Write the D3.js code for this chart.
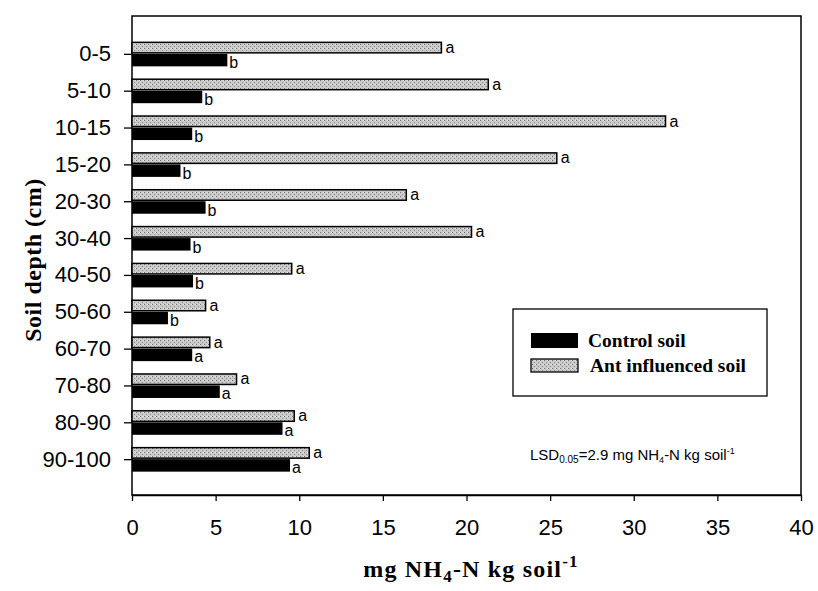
<!DOCTYPE html>
<html>
<head>
<meta charset="utf-8">
<script src="https://cdn.jsdelivr.net/npm/d3@7"></script>
<style>
    html, body { margin: 0; padding: 0; background: #fff; }
    svg { display: block; }
</style>
</head>
<body>
<div id="chart"></div>
<script>
var depths = ["0-5", "5-10", "10-15", "15-20", "20-30", "30-40", "40-50", "50-60", "60-70", "70-80", "80-90", "90-100"];
var controlSoil = [5.7, 4.2, 3.6, 2.9, 4.4, 3.5, 3.65, 2.15, 3.6, 5.25, 9.0, 9.45];
var antSoil = [18.5, 21.3, 31.9, 25.4, 16.4, 20.3, 9.55, 4.4, 4.65, 6.25, 9.7, 10.6];
var controlLetters = ["b", "b", "b", "b", "b", "b", "b", "b", "a", "a", "a", "a"];
var antLetters = ["a", "a", "a", "a", "a", "a", "a", "a", "a", "a", "a", "a"];
var xTicks = [0, 5, 10, 15, 20, 25, 30, 35, 40];

(function () {
    var width = 818;
    var height = 591;
    var left = 132, right = 801, top = 16, bottom = 495;
    var barH = 11.5;
    var sans = "Arial, 'Liberation Sans', sans-serif";
    var serif = "'Times New Roman', 'Liberation Serif', serif";

    var svg = d3.select("#chart")
        .append("svg")
        .attr("width", width)
        .attr("height", height);

    var defs = svg.append("defs");
    var pat = defs.append("pattern")
        .attr("id", "stipple")
        .attr("patternUnits", "userSpaceOnUse")
        .attr("width", 4)
        .attr("height", 4);
    pat.append("rect").attr("width", 4).attr("height", 4).attr("fill", "#cacaca");
    pat.append("rect").attr("x", 0).attr("y", 0).attr("width", 1).attr("height", 1).attr("fill", "#6e6e6e");
    pat.append("rect").attr("x", 2).attr("y", 2).attr("width", 1).attr("height", 1).attr("fill", "#8c8c8c");
    pat.append("rect").attr("x", 3).attr("y", 0).attr("width", 1).attr("height", 1).attr("fill", "#e8e8e8");

    var x = d3.scaleLinear().domain([0, 40]).range([left, right]);
    var y = d3.scalePoint().domain(depths).range([top + 1, bottom + 1]).padding(1);

    var rows = depths.map(function (d, i) {
        return { depth: d, control: controlSoil[i], ant: antSoil[i], cl: controlLetters[i], al: antLetters[i] };
    });

    // frame
    svg.append("rect")
        .attr("x", left)
        .attr("y", top)
        .attr("width", right - left)
        .attr("height", bottom - top)
        .attr("fill", "none")
        .attr("stroke", "#000")
        .attr("stroke-width", 1.5);

    // x axis
    var xAxis = svg.append("g")
        .attr("transform", "translate(0," + bottom + ")")
        .call(d3.axisBottom(x).tickValues(xTicks).tickSize(6).tickSizeOuter(0).tickPadding(18));
    xAxis.select(".domain").attr("stroke-width", 1.5);
    xAxis.selectAll("line").attr("stroke-width", 1.3);
    xAxis.selectAll("text")
        .attr("font-family", sans)
        .attr("font-size", "22px")
        .attr("fill", "#000");

    // y axis
    var yAxis = svg.append("g")
        .attr("transform", "translate(" + left + ",0)")
        .call(d3.axisLeft(y).tickSize(8).tickSizeOuter(0).tickPadding(13));
    yAxis.select(".domain").remove();
    yAxis.selectAll("line").attr("stroke-width", 1.3);
    yAxis.selectAll("text")
        .attr("font-family", sans)
        .attr("font-size", "22px")
        .attr("fill", "#000");

    var g = svg.append("g");

    // ant influenced bars (above the tick)
    g.selectAll(".ant")
        .data(rows)
        .enter()
        .append("rect")
        .attr("class", "ant")
        .attr("x", x(0))
        .attr("y", function (d) { return y(d.depth) - barH; })
        .attr("width", function (d) { return x(d.ant) - x(0); })
        .attr("height", barH - 1)
        .attr("fill", "url(#stipple)")
        .attr("stroke", "#000")
        .attr("stroke-width", 1.5);

    // control bars (below the tick)
    g.selectAll(".ctl")
        .data(rows)
        .enter()
        .append("rect")
        .attr("class", "ctl")
        .attr("x", x(0))
        .attr("y", function (d) { return y(d.depth); })
        .attr("width", function (d) { return x(d.control) - x(0); })
        .attr("height", barH + 1)
        .attr("fill", "#000");

    g.selectAll(".alab")
        .data(rows)
        .enter()
        .append("text")
        .attr("x", function (d) { return x(d.ant) + 4; })
        .attr("y", function (d) { return y(d.depth) - 1; })
        .attr("font-family", sans)
        .attr("font-size", "16px")
        .text(function (d) { return d.al; });

    g.selectAll(".clab")
        .data(rows)
        .enter()
        .append("text")
        .attr("x", function (d) { return x(d.control) + 2; })
        .attr("y", function (d) { return y(d.depth) + barH + (d.cl === "b" ? 3 : 2); })
        .attr("font-family", sans)
        .attr("font-size", "16px")
        .text(function (d) { return d.cl; });

    // legend
    var leg = svg.append("g");
    leg.append("rect")
        .attr("x", 513).attr("y", 309)
        .attr("width", 254).attr("height", 87)
        .attr("fill", "#fff").attr("stroke", "#000").attr("stroke-width", 1.3);
    leg.append("rect")
        .attr("x", 531).attr("y", 333)
        .attr("width", 47).attr("height", 15)
        .attr("fill", "#000");
    leg.append("rect")
        .attr("x", 531).attr("y", 359)
        .attr("width", 47).attr("height", 13)
        .attr("fill", "url(#stipple)").attr("stroke", "#000").attr("stroke-width", 1.3);
    leg.append("text")
        .attr("x", 588).attr("y", 347)
        .attr("font-family", serif)
        .attr("font-weight", "bold")
        .attr("font-size", "19.5px")
        .text("Control soil");
    leg.append("text")
        .attr("x", 590).attr("y", 372)
        .attr("font-family", serif)
        .attr("font-weight", "bold")
        .attr("font-size", "19.5px")
        .text("Ant influenced soil");

    // LSD note
    var lsd = svg.append("text")
        .attr("x", 530).attr("y", 460)
        .attr("font-family", sans)
        .attr("font-size", "15px");
    lsd.append("tspan").text("LSD");
    lsd.append("tspan").attr("font-size", "10px").attr("dy", 3).text("0.05");
    lsd.append("tspan").attr("dy", -3).text("=2.9 mg NH");
    lsd.append("tspan").attr("font-size", "9px").attr("dy", 3).text("4");
    lsd.append("tspan").attr("dy", -3).text("-N kg soil");
    lsd.append("tspan").attr("font-size", "9px").attr("dy", -6).text("-1");

    // axis titles
    var xt = svg.append("text")
        .attr("x", 471).attr("y", 577)
        .attr("text-anchor", "middle")
        .attr("font-family", serif)
        .attr("font-weight", "bold")
        .attr("font-size", "24px")
        .attr("letter-spacing", "1.2px");
    xt.append("tspan").text("mg NH");
    xt.append("tspan").attr("font-size", "17px").attr("dy", 5).text("4");
    xt.append("tspan").attr("dy", -5).text("-N kg soil");
    xt.append("tspan").attr("font-size", "17px").attr("dy", -10).text("-1");

    svg.append("text")
        .attr("transform", "translate(41,260) rotate(-90)")
        .attr("text-anchor", "middle")
        .attr("font-family", serif)
        .attr("font-weight", "bold")
        .attr("font-size", "24px")
        .attr("letter-spacing", "0.5px")
        .text("Soil depth (cm)");
}());
</script>
</body>
</html>
